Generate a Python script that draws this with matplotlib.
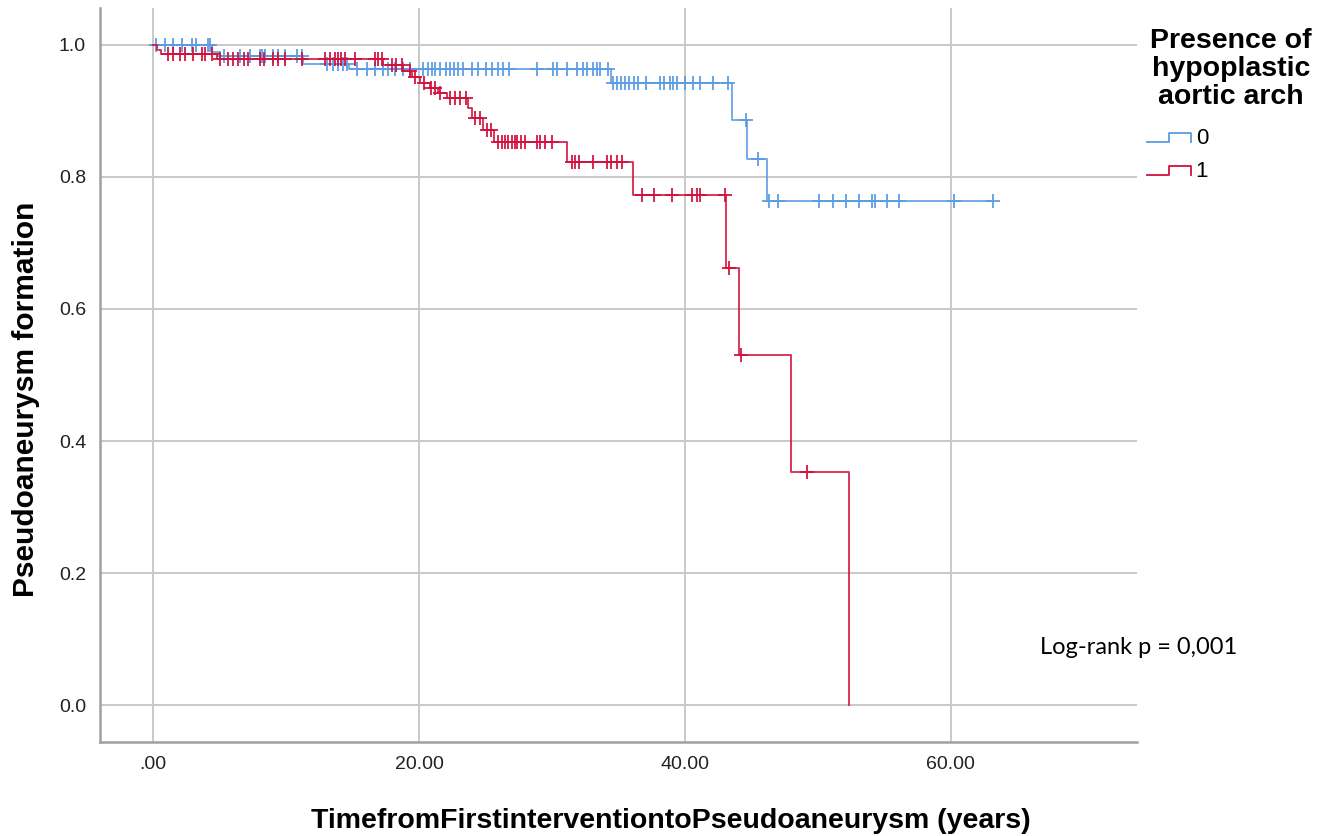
import numpy as np
import matplotlib
matplotlib.use("Agg")
import matplotlib.pyplot as plt
from matplotlib.legend_handler import HandlerBase
from matplotlib.lines import Line2D

# ----------- DONNÉES -----------
# groupe 0 : pas d'arche aortique hypoplasique
t0_steps = [0.0, 4.4, 5.0, 11.3, 14.7, 34.4, 43.5, 44.7, 46.2, 63.2]
s0_steps = [1.0, 0.990, 0.983, 0.971, 0.963, 0.942, 0.886, 0.827, 0.764, 0.764]
t0_cens = [0.2, 0.9, 1.5, 2.2, 2.9, 3.2, 4.1, 4.3,
           5.3, 6.5, 7.3, 8.0, 8.2, 8.4, 9.0, 9.4, 9.9, 10.8, 11.2,
           13.1, 13.5, 13.9, 14.3, 14.6, 15.3, 16.1, 16.7, 17.3, 17.7, 18.2,
           18.8, 19.3, 20.3, 20.7, 21.0, 21.2, 21.6, 22.0, 22.3, 22.6, 22.9,
           23.3, 24.0, 24.4, 25.0, 25.5, 25.9, 26.3, 26.8, 28.9, 30.1, 30.4,
           31.1, 31.9, 32.3, 32.6, 33.1, 33.4, 33.6, 34.2,
           34.6, 34.9, 35.2, 35.5, 35.8, 36.2, 36.5, 37.1, 38.1, 38.4, 38.9,
           39.1, 39.4, 40.0, 40.6, 41.1, 42.1, 43.2,
           44.6, 45.5, 46.3, 47.0, 50.1, 51.1, 52.1, 53.1, 54.1, 54.3, 55.2,
           56.1, 60.2, 63.2]

# groupe 1 : arche aortique hypoplasique
t1_steps = [0.0, 0.3, 0.6, 4.8, 17.3, 18.8, 19.5, 20.1, 20.8, 21.4, 22.1,
            23.7, 24.0, 24.8, 25.6, 31.1, 36.1, 43.1, 44.1, 48.0, 52.3]
s1_steps = [1.0, 0.993, 0.986, 0.978, 0.970, 0.960, 0.952, 0.942, 0.935,
            0.927, 0.920, 0.905, 0.889, 0.871, 0.853, 0.823, 0.773, 0.662,
            0.530, 0.353, 0.0]
t1_cens = [1.1, 1.5, 2.0, 2.4, 3.0, 3.7, 3.9, 4.4,
           5.0, 5.6, 6.0, 6.4, 6.8, 7.1, 8.0, 8.3, 9.0, 9.4, 9.9, 11.2,
           12.9, 13.3, 13.7, 13.9, 14.1, 14.4, 15.2, 16.7, 16.9, 17.2,
           18.0, 18.3, 18.7, 19.3, 19.7, 20.4, 20.9, 21.2, 21.6, 22.3, 22.7,
           23.1, 23.5, 24.2, 24.6, 25.1, 25.4,
           25.9, 26.2, 26.5, 26.7, 27.0, 27.2, 27.4, 27.7, 28.0, 28.9, 29.1,
           29.5, 30.0,
           31.5, 31.7, 32.0, 33.1, 34.1, 34.4, 34.9, 35.3,
           36.8, 37.7, 39.0, 40.5, 40.9, 41.1, 43.0, 43.3, 44.2, 49.2]

x_ticks = [0, 20, 40, 60]
x_labels = [".00", "20.00", "40.00", "60.00"]
y_ticks = [0.0, 0.2, 0.4, 0.6, 0.8, 1.0]
y_labels = ["0.0", "0.2", "0.4", "0.6", "0.8", "1.0"]
groups = ["0", "1"]

BLUE = "#5b9be3"
RED = "#d2103c"

plt.rcParams['font.family'] = ['Liberation Sans', 'DejaVu Sans']


def censor_y(t_steps, s_steps, t_cens):
    idx = np.searchsorted(t_steps, t_cens, side='right') - 1
    return np.asarray(s_steps)[idx]


class StepHandler(HandlerBase):
    def create_artists(self, legend, orig_handle, xdescent, ydescent,
                       width, height, fontsize, trans):
        lo = 0.1 * height
        hi = 0.7 * height
        xs = [0, 0.5 * width, 0.5 * width, width, width]
        ys = [lo, lo, hi, hi, lo]
        ln = Line2D(xs, ys, color=orig_handle.get_color(), lw=1.3, transform=trans)
        return [ln]


# ----------- FIGURE -----------
fig = plt.figure(figsize=(13.37, 8.36), dpi=100)
ax = fig.add_axes([100 / 1337, 1 - 742 / 836, 1037 / 1337, 734 / 836])

ax.set_xlim(-4.0, 74.0)
ax.set_ylim(-0.056, 1.056)
ax.set_xticks(x_ticks)
ax.set_xticklabels(x_labels)
ax.set_yticks(y_ticks)
ax.set_yticklabels(y_labels)
ax.tick_params(length=0, labelsize=14, labelcolor="#222222", pad=10)
ax.grid(True, color="#c8c8c8", lw=1.4)
ax.set_axisbelow(True)
for side in ["top", "right"]:
    ax.spines[side].set_visible(False)
for side in ["left", "bottom"]:
    ax.spines[side].set_color("#a0a0a0")
    ax.spines[side].set_linewidth(1.8)

handles = []
for t_steps, s_steps, t_cens, col in [(t0_steps, s0_steps, t0_cens, BLUE),
                                       (t1_steps, s1_steps, t1_cens, RED)]:
    ln, = ax.step(t_steps, s_steps, where='post', color=col, lw=1.3, alpha=0.9)
    ax.plot(t_cens, censor_y(t_steps, s_steps, t_cens), ls='none', marker='+',
            ms=10, mew=1.4, color=col, alpha=0.9)
    handles.append(ln)

ax.set_ylabel("Pseudoaneurysm formation", fontsize=21.5, fontweight='bold')
ax.yaxis.set_label_coords(-60 / 1037, 0.467)
ax.set_xlabel("TimefromFirstinterventiontoPseudoaneurysm (years)", fontsize=20.5,
              fontweight='bold')
ax.xaxis.set_label_coords(0.55, -0.09)

fig.text(1231 / 1337, 1 - 69 / 836, "Presence of\nhypoplastic\naortic arch",
         ha='center', va='center', fontsize=20.5, fontweight='bold',
         linespacing=1.12)
fig.legend(handles, groups, handler_map={Line2D: StepHandler()},
           loc='upper left', bbox_to_anchor=(1129 / 1337, 1 - 110 / 836),
           frameon=False, fontsize=16, handlelength=2.0, handletextpad=0.2,
           labelspacing=0.55, borderpad=0.3)

ax.text(1040 / 1337, 1 - 647 / 836, "Log-rank p = 0,001", transform=fig.transFigure,
        fontsize=17, family=['Lato', 'DejaVu Sans'], va='center', ha='left')

fig.savefig("out.png", dpi=100)
